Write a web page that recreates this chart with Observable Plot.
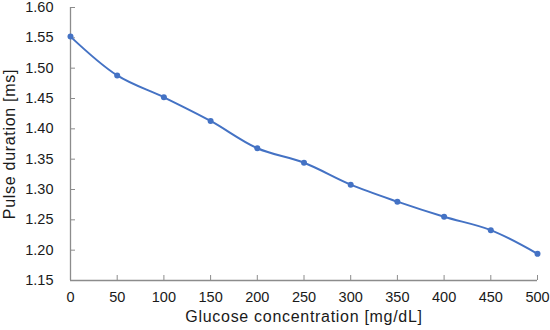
<!DOCTYPE html>
<html>
<head>
<meta charset="utf-8">
<script src="https://cdn.jsdelivr.net/npm/d3@7"></script>
<script src="https://cdn.jsdelivr.net/npm/@observablehq/plot@0.6"></script>
<style>
  html, body { margin: 0; padding: 0; background: #fff; }
  #chart svg { display: block; overflow: visible; }
</style>
</head>
<body>
<div id="chart"></div>
<script>
const glucose = [0, 50, 100, 150, 200, 250, 300, 350, 400, 450, 500];
const pulse = [1.552, 1.488, 1.452, 1.413, 1.368, 1.344, 1.308, 1.280, 1.255, 1.233, 1.194];
const xTicks = [0, 50, 100, 150, 200, 250, 300, 350, 400, 450, 500];
const yTicks = [1.15, 1.20, 1.25, 1.30, 1.35, 1.40, 1.45, 1.50, 1.55, 1.60];
const xLabel = "Glucose concentration [mg/dL]";
const yLabel = "Pulse duration [ms]";

const data = glucose.map((g, i) => ({g, p: pulse[i]}));

const W = 550, H = 330, mL = 70, mR = 13, mT = 7, mB = 50;
const innerW = W - mL - mR, innerH = H - mT - mB;
const lineColor = "#4472C4";
const axisColor = "#8c8c8c";
const textColor = "#1a1a1a";
const font = "'Liberation Sans', Arial, sans-serif";

const chart = Plot.plot({
  width: W, height: H,
  marginLeft: mL, marginRight: mR, marginTop: mT, marginBottom: mB,
  style: {fontFamily: font, fontSize: "14px", color: textColor, background: "#fff"},
  x: {domain: [0, 500]},
  y: {domain: [1.15, 1.60]},
  marks: [
    Plot.axisX({ticks: xTicks, tickSize: 0, tickPadding: 11, tickFormat: d => String(d), label: null, fontSize: 14.5, fill: textColor}),
    Plot.axisY({ticks: yTicks, tickSize: 0, tickPadding: 17, tickFormat: d => d.toFixed(2), label: null, fontSize: 14.5, fill: textColor}),
    Plot.tickY(yTicks, {y: d => d, stroke: axisColor, insetRight: innerW - 5}),
    Plot.tickX(xTicks, {x: d => d, stroke: axisColor, insetTop: innerH - 5}),
    Plot.ruleX([0], {stroke: axisColor, strokeWidth: 1.3}),
    Plot.ruleY([1.15], {stroke: axisColor, strokeWidth: 1.3}),
    Plot.line(data, {x: "g", y: "p", stroke: lineColor, strokeWidth: 2, curve: "catmull-rom"}),
    Plot.dot(data, {x: "g", y: "p", fill: lineColor, r: 3}),
    Plot.text([xLabel], {frameAnchor: "bottom", dy: 41, text: d => d, fontSize: 16, fill: textColor}),
    Plot.text([yLabel], {frameAnchor: "left", textAnchor: "middle", dx: -61, rotate: -90, text: d => d, fontSize: 16, fill: textColor})
  ]
});
chart.querySelectorAll("text").forEach(t => {
  const s = t.textContent;
  if (s === xLabel || s === yLabel) t.style.letterSpacing = "0.7px";
});
chart.querySelectorAll("g[aria-label$='tick label']").forEach(g => { g.style.fontSize = "14.5px"; });
document.getElementById("chart").appendChild(chart);
</script>
</body>
</html>
